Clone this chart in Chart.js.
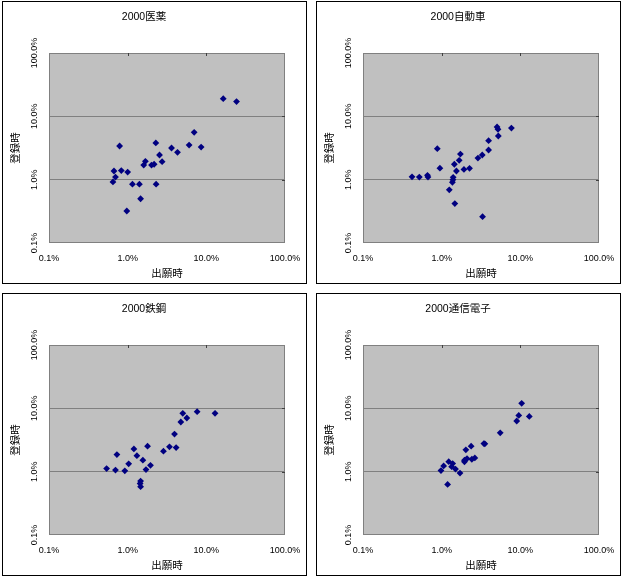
<!DOCTYPE html>
<html>
<head>
<meta charset="utf-8">
<script src="https://cdn.jsdelivr.net/npm/chart.js@4.4.0/dist/chart.umd.min.js"></script>
<style>
  body { margin: 0; background: #fff; }
  .panel { position: absolute; width: 303px; height: 281px; border: 1px solid #000; background: #fff; }
  canvas { display: block; }
</style>
</head>
<body>
<div class="panel" style="left:2px;top:1px"><canvas id="c0" width="303" height="281"></canvas></div>
<div class="panel" style="left:316px;top:1px"><canvas id="c1" width="303" height="281"></canvas></div>
<div class="panel" style="left:2px;top:293px"><canvas id="c2" width="303" height="281"></canvas></div>
<div class="panel" style="left:316px;top:293px"><canvas id="c3" width="303" height="281"></canvas></div>
<script>
// panel titles and axis labels
const titles = ['2000医薬', '2000自動車', '2000鉄鋼', '2000通信電子'];
const xAxisTitle = '出願時';
const yAxisTitle = '登録時';
const tickValues = [0.1, 1, 10, 100]; // percent

// 医薬
const iyakuX = [16.4, 24.2, 7.0, 0.79, 2.28, 3.61, 4.3, 6.04, 8.59, 2.54, 2.74, 1.68, 1.60, 2.01, 2.17, 0.67, 0.83, 1.0, 0.70, 0.65, 1.15, 1.41, 2.30, 1.46, 0.975];
const iyakuY = [19.0, 17.1, 5.6, 3.4, 3.8, 3.16, 2.7, 3.52, 3.27, 2.45, 1.92, 1.95, 1.70, 1.70, 1.75, 1.37, 1.39, 1.32, 1.10, 0.92, 0.85, 0.85, 0.85, 0.50, 0.32];
// 自動車
const jidoshaX = [5.06, 5.2, 7.7, 5.25, 3.95, 3.95, 0.88, 1.73, 1.67, 1.45, 3.28, 2.89, 0.95, 1.54, 1.92, 2.26, 0.42, 0.52, 0.66, 0.67, 1.40, 1.39, 1.37, 1.25, 1.47, 3.31];
const jidoshaY = [6.78, 6.23, 6.53, 4.89, 4.13, 2.94, 3.09, 2.54, 2.02, 1.75, 2.45, 2.19, 1.52, 1.37, 1.45, 1.51, 1.11, 1.10, 1.17, 1.10, 1.09, 1.0, 0.91, 0.69, 0.42, 0.26];
// 鉄鋼
const tekkoX = [7.64, 12.9, 5.02, 5.65, 4.74, 3.94, 3.40, 4.13, 2.85, 1.79, 1.20, 0.73, 1.31, 1.56, 1.03, 1.95, 1.71, 0.54, 0.70, 0.92, 1.46, 1.44, 1.46];
const tekkoY = [8.87, 8.33, 8.33, 7.04, 6.08, 3.92, 2.47, 2.40, 2.11, 2.53, 2.29, 1.86, 1.79, 1.52, 1.33, 1.26, 1.08, 1.12, 1.06, 1.03, 0.71, 0.65, 0.58];
// 通信電子
const tsushinX = [10.4, 9.55, 13.0, 9.0, 5.55, 3.44, 3.54, 2.37, 2.03, 2.64, 2.42, 2.10, 1.95, 1.95, 1.23, 1.38, 1.06, 1.34, 1.50, 0.98, 1.71, 1.19];
const tsushinY = [12.0, 7.74, 7.46, 6.31, 4.11, 2.78, 2.75, 2.53, 2.21, 1.65, 1.57, 1.61, 1.52, 1.43, 1.44, 1.34, 1.23, 1.20, 1.10, 1.04, 0.95, 0.63];

const seriesX = [iyakuX, jidoshaX, tekkoX, tsushinX];
const seriesY = [iyakuY, jidoshaY, tekkoY, tsushinY];

const FONT = '"Liberation Sans", "Noto Sans CJK JP", sans-serif';

// gray plot area, frame and the little inner tick marks
const plotFrame = {
  id: 'plotFrame',
  beforeDraw(chart) {
    const { ctx, chartArea: a } = chart;
    ctx.save();
    ctx.fillStyle = '#c0c0c0';
    ctx.fillRect(a.left, a.top, a.width, a.height);
    ctx.restore();
  },
  beforeDatasetsDraw(chart) {
    const { ctx, chartArea: a, scales } = chart;
    ctx.save();
    ctx.strokeStyle = '#808080';
    ctx.lineWidth = 1;
    ctx.strokeRect(Math.round(a.left) + 0.5, Math.round(a.top) + 0.5, Math.round(a.width) - 1, Math.round(a.height) - 1);
    ctx.strokeStyle = '#404040';
    ctx.beginPath();
    [1, 10].forEach(v => {
      const x = Math.round(scales.x.getPixelForValue(v)) + 0.5;
      ctx.moveTo(x, a.top);
      ctx.lineTo(x, a.top + 3);
      const y = Math.round(scales.y.getPixelForValue(v)) + 0.5;
      ctx.moveTo(a.right - 3, y);
      ctx.lineTo(a.right, y);
    });
    ctx.stroke();
    ctx.restore();
  }
};

const fmt = v => Number(v).toFixed(1) + '%';
const fixTicks = s => { s.ticks = tickValues.map(v => ({ value: v })); };

titles.forEach((title, i) => {
  const points = seriesX[i].map((x, j) => ({ x: x, y: seriesY[i][j] }));
  new Chart(document.getElementById('c' + i), {
    type: 'scatter',
    data: {
      datasets: [{
        data: points,
        pointStyle: 'rectRot',
        pointRadius: 3.4,
        backgroundColor: '#000080',
        borderColor: '#000080',
        borderWidth: 0
      }]
    },
    options: {
      responsive: false,
      animation: false,
      layout: { padding: { left: 0, right: 21, top: 0, bottom: 0 } },
      plugins: {
        legend: { display: false },
        tooltip: { enabled: false },
        title: {
          display: true,
          text: title,
          color: '#000',
          font: { family: FONT, size: 10.5, weight: 'normal' },
          padding: { top: 8.5, bottom: 29.9 }
        }
      },
      scales: {
        x: {
          type: 'logarithmic',
          min: 0.1,
          max: 100,
          afterBuildTicks: fixTicks,
          afterFit: s => { s.height = 40; },
          grid: { display: false },
          border: { display: false },
          ticks: {
            color: '#000',
            font: { family: FONT, size: 9 },
            padding: 2.5,
            maxRotation: 0,
            autoSkip: false,
            callback: fmt
          },
          title: {
            display: true,
            text: xAxisTitle,
            color: '#000',
            font: { family: FONT, size: 10.5 },
            padding: { top: 0, bottom: 3 }
          }
        },
        y: {
          type: 'logarithmic',
          min: 0.1,
          max: 100,
          afterBuildTicks: fixTicks,
          afterFit: s => { s.width = 46; },
          grid: {
            drawTicks: false,
            color: c => (c.tick && (c.tick.value === 1 || c.tick.value === 10)) ? '#808080' : 'rgba(0,0,0,0)'
          },
          border: { display: false },
          ticks: {
            color: '#000',
            font: { family: FONT, size: 9 },
            minRotation: 90,
            maxRotation: 90,
            crossAlign: 'center',
            padding: -1,
            autoSkip: false,
            callback: fmt
          },
          title: {
            display: true,
            text: yAxisTitle,
            color: '#000',
            font: { family: FONT, size: 10.5 },
            padding: { top: 7, bottom: 0 }
          }
        }
      }
    },
    plugins: [plotFrame]
  });
});
</script>
</body>
</html>
